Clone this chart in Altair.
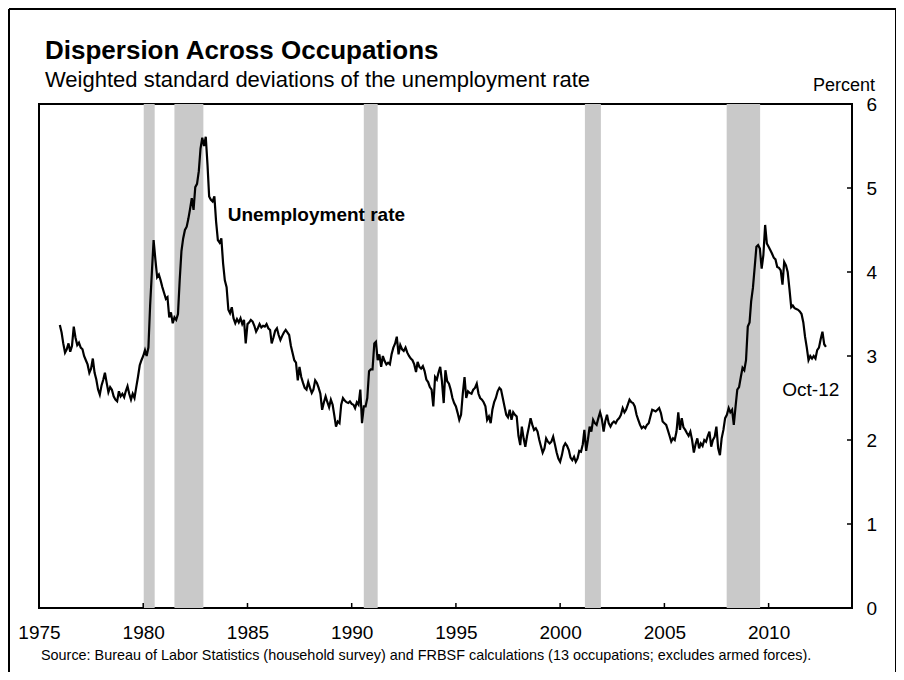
import altair as alt
import pandas as pd

W, H = 813, 504
FONT = "Liberation Sans, Arial, Helvetica, sans-serif"

# Monthly weighted standard deviation of occupational unemployment rates (percent), Jan 1976 - Oct 2012
values_1976_1979 = [
    3.37, 3.28, 3.15, 3.04, 3.08, 3.15, 3.05, 3.12, 3.35, 3.22, 3.13, 3.16,
    3.10, 3.08, 3.00, 2.95, 2.90, 2.80, 2.85, 2.97, 2.80, 2.72, 2.60, 2.54,
    2.65, 2.72, 2.80, 2.68, 2.57, 2.63, 2.60, 2.52, 2.48, 2.46, 2.58, 2.52,
    2.55, 2.51, 2.58, 2.64, 2.55, 2.48, 2.55, 2.50, 2.63, 2.75, 2.89, 2.95,
]
values_1980s = [
    3.00, 3.07, 3.00, 3.10, 3.60, 4.00, 4.38, 4.15, 3.94, 3.97, 3.90, 3.82,
    3.75, 3.68, 3.70, 3.46, 3.52, 3.39, 3.46, 3.43, 3.50, 3.90, 4.25, 4.40,
    4.50, 4.54, 4.63, 4.75, 4.88, 4.74, 5.01, 5.05, 5.20, 5.47, 5.60, 5.50,
    5.61, 5.27, 4.90, 4.86, 4.84, 4.90, 4.60, 4.38, 4.35, 4.40, 4.10, 3.90,
    3.82, 3.55, 3.51, 3.58, 3.45, 3.39, 3.44, 3.40, 3.45, 3.38, 3.43, 3.15,
    3.38, 3.40, 3.43, 3.41, 3.36, 3.29, 3.33, 3.38, 3.34, 3.36, 3.35, 3.38,
    3.33, 3.31, 3.15, 3.22, 3.30, 3.33, 3.25, 3.19, 3.24, 3.28, 3.31, 3.28,
    3.25, 3.12, 3.04, 2.95, 2.92, 2.71, 2.87, 2.75, 2.68, 2.62, 2.60, 2.69,
    2.62, 2.56, 2.60, 2.71, 2.68, 2.62, 2.55, 2.36, 2.45, 2.52, 2.45, 2.39,
    2.48, 2.42, 2.30, 2.16, 2.22, 2.20, 2.42, 2.50, 2.47, 2.45, 2.44, 2.46,
]
values_1990s = [
    2.43, 2.42, 2.38, 2.45, 2.42, 2.60, 2.20, 2.40, 2.40, 2.50, 2.82, 2.84,
    2.84, 3.15, 3.17, 2.95, 3.02, 2.87, 3.00, 2.94, 2.90, 2.92, 2.90, 3.02,
    3.10, 3.15, 3.23, 3.02, 3.13, 3.08, 3.06, 3.10, 3.04, 3.00, 2.97, 2.95,
    2.90, 2.81, 2.93, 2.87, 2.85, 2.88, 2.82, 2.72, 2.69, 2.63, 2.60, 2.40,
    2.75, 2.72, 2.80, 2.87, 2.70, 2.44, 2.83, 2.70, 2.67, 2.60, 2.50, 2.44,
    2.40, 2.32, 2.24, 2.30, 2.55, 2.75, 2.50, 2.58, 2.56, 2.55, 2.60, 2.62,
    2.67, 2.55, 2.50, 2.48, 2.45, 2.40, 2.24, 2.28, 2.20, 2.36, 2.45, 2.50,
    2.58, 2.62, 2.60, 2.50, 2.40, 2.30, 2.27, 2.36, 2.24, 2.33, 2.30, 2.28,
    2.05, 1.94, 2.16, 2.02, 1.92, 2.05, 2.15, 2.26, 2.18, 2.12, 2.14, 2.10,
    2.00, 1.92, 1.85, 1.90, 2.02, 1.98, 1.96, 1.98, 2.04, 1.95, 1.85, 1.78,
]
values_2000s = [
    1.74, 1.82, 1.92, 1.96, 1.93, 1.88, 1.79, 1.76, 1.80, 1.74, 1.78, 1.87,
    1.86, 1.95, 2.12, 1.87, 2.00, 2.16, 2.10, 2.24, 2.20, 2.18, 2.26, 2.33,
    2.25, 2.10, 2.22, 2.30, 2.20, 2.16, 2.20, 2.22, 2.20, 2.24, 2.26, 2.30,
    2.38, 2.33, 2.36, 2.42, 2.48, 2.45, 2.44, 2.40, 2.30, 2.24, 2.18, 2.14,
    2.16, 2.14, 2.18, 2.20, 2.28, 2.36, 2.35, 2.34, 2.36, 2.38, 2.32, 2.22,
    2.20, 2.18, 2.12, 2.05, 1.98, 2.02, 2.00, 2.10, 2.33, 2.12, 2.26, 2.15,
    2.12, 2.08, 2.05, 2.10, 2.00, 1.85, 1.95, 2.02, 1.90, 1.96, 1.93, 2.00,
    1.98, 2.05, 2.10, 1.92, 2.00, 2.04, 2.16, 1.90, 1.82, 2.02, 2.12, 2.26,
    2.30, 2.38, 2.33, 2.36, 2.18, 2.40, 2.60, 2.63, 2.75, 2.86, 2.83, 2.95,
    3.35, 3.40, 3.65, 3.81, 4.05, 4.30, 4.32, 4.28, 4.04, 4.20, 4.56, 4.34,
]
values_2010s = [
    4.30, 4.26, 4.22, 4.17, 4.15, 4.06, 4.05, 4.02, 3.85, 4.12, 4.08, 4.00,
    3.80, 3.58, 3.60, 3.57, 3.56, 3.55, 3.53, 3.50, 3.40, 3.23, 3.10, 2.95,
    3.00, 2.97, 3.00, 2.97, 3.07, 3.10, 3.20, 3.29, 3.14, 3.11,
]

series = values_1976_1979 + values_1980s + values_1990s + values_2000s + values_2010s
dates = pd.date_range("1976-01-01", periods=len(series), freq="MS")
df = pd.DataFrame({"date": dates.strftime("%Y-%m-%d"), "value": series})

# Recessions (shaded)
rec_start = ["1980-01-10", "1981-07-01", "1990-08-01", "2001-03-10", "2007-12-28"]
rec_end = ["1980-07-20", "1982-11-20", "1991-04-01", "2001-12-15", "2009-08-05"]
rec = pd.DataFrame({"start": rec_start, "end": rec_end})

x_tick_years = [1975, 1980, 1985, 1990, 1995, 2000, 2005, 2010]
y_ticks = [0, 1, 2, 3, 4, 5, 6]

annot_text = ["Unemployment rate", "Oct-12"]
annot_date = ["1984-01-20", "2012-01-10"]
annot_value = [4.68, 2.6]

xscale = alt.Scale(domain=[alt.DateTime(year=1975, month=1, date=1),
                           alt.DateTime(year=2014, month=1, date=1)])
yscale = alt.Scale(domain=[0, 6], nice=False, zero=True)

xaxis = alt.Axis(values=[alt.DateTime(year=y, month=1, date=1) for y in x_tick_years],
                 format="%Y", ticks=False, domain=False, grid=False, title=None,
                 labelFlush=False, labelOverlap=False, labelPadding=15,
                 labelFontSize=19, labelFont=FONT, labelColor="black")
yaxis = alt.Axis(orient="right", values=y_ticks, ticks=False, domain=False, grid=False,
                 title=None, labelFlush=False, labelOverlap=False, labelPadding=14,
                 labelFontSize=19, labelFont=FONT, labelColor="black", labelAlign="left",
                 labelBaseline="middle")

bands = alt.Chart(rec).mark_rect(color="#c9c9c9").encode(
    x=alt.X("start:T", scale=xscale, axis=xaxis),
    x2="end:T",
    y=alt.value(0),
    y2=alt.value(H),
)

line = alt.Chart(df).mark_line(color="black", strokeWidth=2.2).encode(
    x=alt.X("date:T", scale=xscale, axis=xaxis),
    y=alt.Y("value:Q", scale=yscale, axis=yaxis),
)

xt = pd.DataFrame({"d": [f"{y}-01-01" for y in x_tick_years[1:]]})
xticks = alt.Chart(xt).mark_rule(color="black", strokeWidth=1.5).encode(
    x=alt.X("d:T", scale=xscale, axis=xaxis),
    y=alt.value(H - 5),
    y2=alt.value(H),
)
yt = pd.DataFrame({"v": y_ticks[1:-1]})
yticks = alt.Chart(yt).mark_rule(color="black", strokeWidth=1.5).encode(
    y=alt.Y("v:Q", scale=yscale, axis=yaxis),
    x=alt.value(W - 5),
    x2=alt.value(W),
)

ann = pd.DataFrame({"date": annot_date, "value": annot_value, "text": annot_text})
ann1 = alt.Chart(ann.iloc[[0]]).mark_text(
    align="left", baseline="middle", fontSize=19, fontWeight="bold", font=FONT, color="black"
).encode(x=alt.X("date:T", scale=xscale, axis=xaxis),
         y=alt.Y("value:Q", scale=yscale, axis=yaxis), text="text:N")
ann2 = alt.Chart(ann.iloc[[1]]).mark_text(
    align="center", baseline="middle", fontSize=19, font=FONT, color="black"
).encode(x=alt.X("date:T", scale=xscale, axis=xaxis),
         y=alt.Y("value:Q", scale=yscale, axis=yaxis), text="text:N")


def label(text, x, y, size, weight="normal", align="left", baseline="alphabetic"):
    return alt.Chart(pd.DataFrame({"t": [text]})).mark_text(
        align=align, baseline=baseline, fontSize=size, fontWeight=weight,
        font=FONT, color="black"
    ).encode(x=alt.value(x), y=alt.value(y), text="t:N")


title = label("Dispersion Across Occupations", 6, -45, 26, weight="bold")
subtitle = label("Weighted standard deviations of the unemployment rate", 6, -17, 22)
percent = label("Percent", 805, -13, 18, align="center")
source = label("Source: Bureau of Labor Statistics (household survey) and FRBSF calculations "
               "(13 occupations; excludes armed forces).", 2, 556, 14.4)

one = pd.DataFrame({"a": [0]})
frame_left = alt.Chart(one).mark_rule(color="black", strokeWidth=2).encode(
    x=alt.value(-30), y=alt.value(-95), y2=alt.value(700))
frame_top = alt.Chart(one).mark_rule(color="black", strokeWidth=2).encode(
    x=alt.value(-30), x2=alt.value(900), y=alt.value(-95))
frame_right = alt.Chart(one).mark_rule(color="black", strokeWidth=2).encode(
    x=alt.value(857), y=alt.value(-95), y2=alt.value(700))

chart = alt.layer(
    bands, line, xticks, yticks, ann1, ann2,
    title, subtitle, percent, source, frame_left, frame_top, frame_right,
).properties(
    width=W, height=H,
    background="white",
    autosize=alt.AutoSizeParams(type="none"),
    padding={"left": 31, "top": 96, "right": 44, "bottom": 64},
).configure_view(stroke="black", strokeWidth=2)

chart.save("out.html", embed_options={"renderer": "svg", "actions": False})
